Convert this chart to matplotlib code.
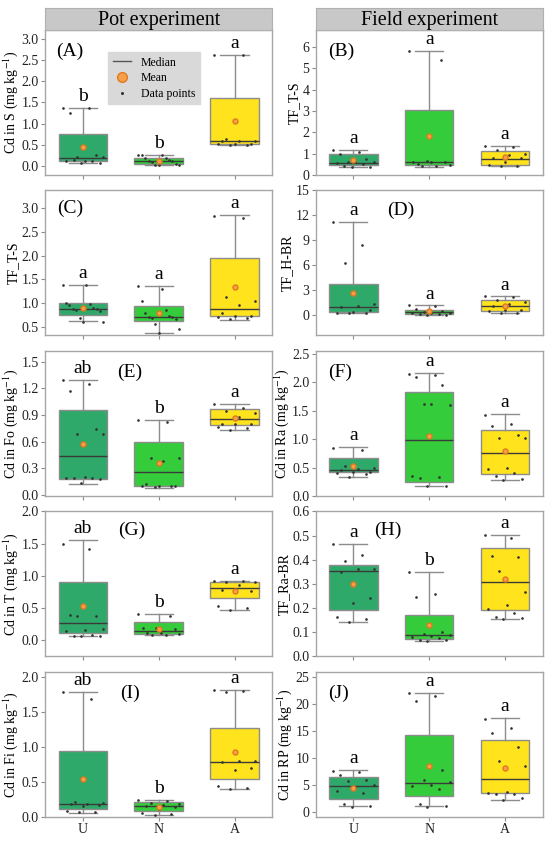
import numpy as np
import matplotlib.pyplot as plt
from matplotlib.lines import Line2D

plt.rcParams['font.family'] = ['Liberation Serif', 'DejaVu Serif']
plt.rcParams['mathtext.fontset'] = 'stix'

groups = ["U", "N", "A"]
box_colors = ["#2fa96a", "#34cc3a", "#ffe31c"]

# each row: lower whisker, Q1, median, Q3, upper whisker, mean  (groups U, N, A)
stats_A = [[0.07, 0.12, 0.19, 0.75, 1.38, 0.44], [0.02, 0.05, 0.13, 0.19, 0.27, 0.13], [0.50, 0.53, 0.60, 1.60, 2.63, 1.07]]
stats_B = [[0.38, 0.47, 0.58, 0.96, 1.18, 0.70], [0.38, 0.47, 0.63, 3.05, 5.80, 1.84], [0.42, 0.47, 0.77, 1.13, 1.37, 0.82]]
stats_C = [[0.61, 0.75, 0.88, 1.00, 1.38, 0.90], [0.37, 0.61, 0.70, 0.94, 1.35, 0.78], [0.64, 0.73, 0.88, 1.94, 2.86, 1.33]]
stats_D = [[0.28, 0.40, 0.96, 3.80, 11.2, 2.68], [0.08, 0.16, 0.40, 0.60, 1.20, 0.48], [0.28, 0.48, 1.16, 1.88, 2.28, 1.16]]
stats_E = [[0.13, 0.185, 0.444, 0.956, 1.296, 0.574], [0.085, 0.104, 0.26, 0.60, 0.844, 0.36], [0.733, 0.785, 0.852, 0.963, 1.02, 0.87]]
stats_F = [[0.334, 0.415, 0.46, 0.66, 0.864, 0.53], [0.167, 0.253, 0.98, 1.826, 2.166, 1.06], [0.288, 0.386, 0.76, 1.152, 1.44, 0.79]]
stats_G = [[0.057, 0.10, 0.265, 0.90, 1.55, 0.52], [0.068, 0.083, 0.135, 0.27, 0.40, 0.17], [0.47, 0.65, 0.81, 0.90, 0.914, 0.76]]
stats_H = [[0.141, 0.194, 0.352, 0.378, 0.466, 0.302], [0.065, 0.074, 0.09, 0.171, 0.348, 0.131], [0.157, 0.192, 0.31, 0.451, 0.503, 0.32]]
stats_I = [[0.063, 0.12, 0.18, 0.94, 1.78, 0.54], [0.034, 0.092, 0.164, 0.207, 0.24, 0.145], [0.395, 0.545, 0.786, 1.277, 1.82, 0.925]]
stats_J = [[1.06, 2.49, 4.85, 6.47, 7.71, 4.48], [1.06, 2.92, 5.41, 14.2, 22.1, 8.46], [2.24, 3.48, 6.2, 13.3, 17.4, 8.1]]

# data points (U, N, A)
pts_A = [[1.38, 1.38, 1.26, 0.25, 0.22, 0.21, 0.12, 0.12, 0.13, 0.14, 0.07, 0.07],
         [0.27, 0.27, 0.25, 0.20, 0.18, 0.14, 0.13, 0.12, 0.10, 0.06, 0.03, 0.02, 0.02],
         [2.63, 2.62, 0.63, 0.60, 0.60, 0.58, 0.53, 0.52, 0.51, 0.50, 0.50]]
pts_B = [[1.18, 1.10, 1.00, 0.75, 0.62, 0.60, 0.60, 0.58, 0.50, 0.40, 0.38, 0.37],
         [5.80, 5.40, 0.65, 0.63, 0.62, 0.60, 0.50, 0.45, 0.40, 0.40],
         [1.35, 1.30, 1.15, 1.00, 0.95, 0.80, 0.78, 0.60, 0.45, 0.42, 0.40]]
pts_C = [[1.38, 1.38, 1.00, 0.98, 0.95, 0.90, 0.88, 0.87, 0.85, 0.82, 0.67, 0.60, 0.60],
         [1.35, 1.30, 1.05, 0.84, 0.78, 0.72, 0.71, 0.70, 0.68, 0.65, 0.55, 0.45, 0.37],
         [2.85, 2.80, 1.12, 1.05, 0.95, 0.79, 0.73, 0.72, 0.70, 0.68, 0.65]]
pts_D = [[11.2, 8.4, 6.3, 1.4, 1.1, 0.96, 0.7, 0.4, 0.35, 0.3, 0.28],
         [1.2, 1.1, 0.8, 0.5, 0.4, 0.35, 0.3, 0.25, 0.2, 0.15, 0.1, 0.08],
         [2.28, 2.2, 1.9, 1.6, 1.4, 1.16, 0.7, 0.6, 0.5, 0.3, 0.28]]
pts_E = [[1.29, 1.25, 1.17, 0.74, 0.69, 0.69, 0.20, 0.19, 0.19, 0.19, 0.18, 0.14],
         [0.84, 0.82, 0.42, 0.42, 0.38, 0.12, 0.10, 0.10, 0.10, 0.10, 0.09],
         [1.02, 0.98, 0.95, 0.92, 0.88, 0.80, 0.80, 0.80, 0.77, 0.75, 0.73]]
pts_F = [[0.85, 0.80, 0.52, 0.50, 0.48, 0.45, 0.43, 0.42, 0.40, 0.38, 0.34],
         [2.15, 2.12, 2.10, 1.95, 1.62, 1.60, 1.62, 0.36, 0.33, 0.32, 0.17, 0.17],
         [1.43, 1.26, 1.23, 1.08, 1.02, 1.02, 0.50, 0.48, 0.40, 0.35, 0.30, 0.28]]
pts_G = [[1.50, 1.42, 0.38, 0.37, 0.37, 0.17, 0.15, 0.13, 0.07, 0.06, 0.06, 0.06],
         [0.40, 0.37, 0.18, 0.18, 0.17, 0.10, 0.10, 0.09, 0.08, 0.07],
         [0.91, 0.91, 0.90, 0.90, 0.85, 0.77, 0.76, 0.76, 0.53, 0.50, 0.47]]
pts_H = [[0.466, 0.42, 0.395, 0.36, 0.36, 0.348, 0.24, 0.22, 0.165, 0.155, 0.141],
         [0.348, 0.26, 0.245, 0.10, 0.095, 0.09, 0.085, 0.08, 0.075, 0.07, 0.068, 0.065],
         [0.503, 0.49, 0.415, 0.41, 0.355, 0.265, 0.215, 0.195, 0.18, 0.165, 0.16, 0.157]]
pts_I = [[1.78, 1.68, 0.22, 0.20, 0.19, 0.18, 0.17, 0.16, 0.08, 0.07, 0.065],
         [0.24, 0.23, 0.20, 0.18, 0.17, 0.16, 0.14, 0.12, 0.05, 0.04, 0.035],
         [1.82, 1.80, 1.78, 0.80, 0.80, 0.79, 0.70, 0.67, 0.44, 0.42, 0.40]]
pts_J = [[7.6, 7.4, 6.9, 5.9, 5.7, 5.0, 4.6, 3.9, 3.5, 1.5, 1.1, 1.0],
         [22.0, 21.5, 20.6, 7.8, 5.9, 5.5, 5.1, 4.8, 4.3, 1.5, 1.1, 1.0],
         [17.3, 15.5, 14.6, 12.0, 9.5, 8.5, 3.8, 3.5, 3.4, 3.3, 2.7, 2.2]]

letters_A = ["b", "b", "a"]
letters_B = ["a", "a", "a"]
letters_C = ["a", "a", "a"]
letters_D = ["a", "a", "a"]
letters_E = ["ab", "b", "a"]
letters_F = ["a", "a", "a"]
letters_G = ["ab", "b", "a"]
letters_H = ["a", "b", "a"]
letters_I = ["ab", "b", "a"]
letters_J = ["a", "a", "a"]

kg = r" (mg kg$^{-1}$)"
panels = [
    # row, col, stats, points, letters, ylabel, ylim, yticks, tag, tag position
    (0, 0, stats_A, pts_A, letters_A, "Cd in S" + kg, (-0.21, 3.21), np.arange(0, 3.01, 0.5), "(A)", (0.11, 0.85)),
    (0, 1, stats_B, pts_B, letters_B, "TF_T-S", (0, 6.8), np.arange(0, 6.1, 1), "(B)", (0.115, 0.85)),
    (1, 0, stats_C, pts_C, letters_C, "TF_T-S", (0.31, 3.38), np.arange(0.5, 3.01, 0.5), "(C)", (0.11, 0.875)),
    (1, 1, stats_D, pts_D, letters_D, "TF_H-BR", (-2.4, 15), np.arange(0, 15.1, 3), "(D)", (0.375, 0.865)),
    (2, 0, stats_E, pts_E, letters_E, "Cd in Fo" + kg, (-0.01, 1.62), np.arange(0, 1.51, 0.3), "(E)", (0.37, 0.855)),
    (2, 1, stats_F, pts_F, letters_F, "Cd in Ra" + kg, (0, 2.55), np.arange(0, 2.51, 0.5), "(F)", (0.11, 0.855)),
    (3, 0, stats_G, pts_G, letters_G, "Cd in T" + kg, (-0.26, 2.0), np.arange(0, 2.01, 0.5), "(G)", (0.38, 0.87)),
    (3, 1, stats_H, pts_H, letters_H, "TF_Ra-BR", (0, 0.6), np.arange(0, 0.61, 0.1), "(H)", (0.32, 0.87)),
    (4, 0, stats_I, pts_I, letters_I, "Cd in Fi" + kg, (0, 2.07), np.arange(0, 2.01, 0.5), "(I)", (0.375, 0.85)),
    (4, 1, stats_J, pts_J, letters_J, "Cd in RP" + kg, (-0.9, 25.9), np.arange(0, 25.1, 5), "(J)", (0.10, 0.855)),
]
headers = ["Pot experiment", "Field experiment"]

fig = plt.figure(figsize=(5.5, 8.42), dpi=100)
gs = fig.add_gridspec(5, 2, left=0.082, right=0.987, top=0.9644, bottom=0.0297,
                      hspace=0.107, wspace=0.19)

edge = "#8c8c8c"
for row, col, stats, pts, letters, ylabel, ylim, yticks, tag, tagxy in panels:
    ax = fig.add_subplot(gs[row, col])
    bx = [dict(whislo=s[0], q1=s[1], med=s[2], q3=s[3], whishi=s[4], mean=s[5], fliers=[]) for s in stats]
    art = ax.bxp(bx, positions=[1, 2, 3], widths=0.64, capwidths=0.37, patch_artist=True,
                 showmeans=True,
                 boxprops=dict(edgecolor=edge, linewidth=1),
                 whiskerprops=dict(color=edge, linewidth=1),
                 capprops=dict(color=edge, linewidth=1),
                 medianprops=dict(color="#3a3a3a", linewidth=1),
                 meanprops=dict(marker="o", markerfacecolor="#f6a14a", markeredgecolor="#e07a1f",
                                markersize=3.6, zorder=5))
    for patch, c in zip(art["boxes"], box_colors):
        patch.set_facecolor(c)
    for i, vals in enumerate(pts):
        n = len(vals)
        off = np.linspace(-0.27, 0.27, n)[(np.arange(n) * 7) % n]
        ax.plot(i + 1 + off, vals, "o", ms=0.9, color="#333333", zorder=4)
    for i, s in enumerate(stats):
        ax.annotate(letters[i], (i + 1, s[4]), xytext=(0, 5), textcoords="offset points",
                    ha="center", va="baseline", fontsize=14)
    ax.text(tagxy[0], tagxy[1], tag, transform=ax.transAxes, ha="center", va="center", fontsize=14)

    ax.set_xlim(0.5, 3.5)
    ax.set_ylim(*ylim)
    ax.set_yticks(yticks)
    if (yticks[1] - yticks[0]) < 1:
        ax.set_yticklabels([f"{v:.1f}" for v in yticks])
    else:
        ax.set_yticklabels([f"{v:.0f}" for v in yticks])
    ax.set_xticks([1, 2, 3])
    if row == 4:
        ax.set_xticklabels(groups, fontsize=12)
    else:
        ax.set_xticklabels([])
    ax.set_ylabel(ylabel, fontsize=10, labelpad=1)
    ax.tick_params(direction="out", length=3, width=0.8, color=edge, labelsize=10,
                   labelcolor="#222222", pad=1.5)
    for sp in ax.spines.values():
        sp.set_color("#a6a6a6")
        sp.set_linewidth(1)

    if row == 0:
        pos = ax.get_position()
        hdr = fig.add_axes([pos.x0, pos.y1, pos.width, 22 / 842])
        hdr.set_facecolor("#c8c8c8")
        hdr.set_xticks([])
        hdr.set_yticks([])
        for sp in hdr.spines.values():
            sp.set_color("#b0b0b0")
        hdr.text(0.5, 0.45, headers[col], ha="center", va="center", fontsize=14.5)

    if row == 0 and col == 0:
        handles = [Line2D([], [], color="#555555", lw=1),
                   Line2D([], [], ls="", marker="o", ms=7, markerfacecolor="#f6a14a",
                          markeredgecolor="#e07a1f"),
                   Line2D([], [], ls="", marker="o", ms=1.2, color="#333333")]
        ax.legend(handles, ["Median", "Mean", "Data points"], loc="upper left",
                  bbox_to_anchor=(0.25, 0.89), fontsize=8.5, frameon=True,
                  facecolor="#d9d9d9", edgecolor="#d9d9d9", framealpha=1, fancybox=False,
                  handlelength=1.6, labelspacing=0.3, borderpad=0.4, handletextpad=0.8)

fig.savefig("out.png", dpi=100)
